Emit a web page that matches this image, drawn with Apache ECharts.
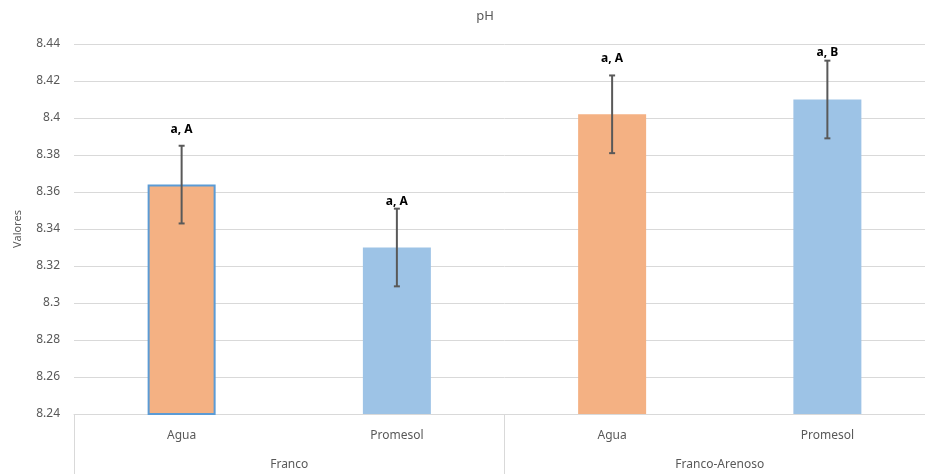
<!DOCTYPE html>
<html>
<head>
<meta charset="utf-8">
<script src="https://cdn.jsdelivr.net/npm/echarts@6/dist/echarts.min.js"></script>
<style>
  html, body { margin: 0; padding: 0; background: #fff; overflow: hidden; }
  #chart { width: 960px; height: 474px; }
</style>
</head>
<body>
<div id="chart"></div>
<script>
// Treatment categories and soil texture groups
const categories = ['Agua', 'Promesol', 'Agua', 'Promesol'];
const groups = ['Franco', 'Franco-Arenoso'];

// Mean pH per treatment and its error (±)
const phValues = [8.364, 8.330, 8.402, 8.410];
const phErrors = [0.021, 0.021, 0.021, 0.021];

// Significance letters shown above each error bar
const letters = ['a, A', 'a, A', 'a, A', 'a, B'];

// Y axis range
const yMin = 8.24;
const yMax = 8.44;
const yStep = 0.02;

// Styling
const barColors = { 'Agua': '#F4B183', 'Promesol': '#9DC3E6' };
const letterGap = [16, 7, 17, 8];
const textGray = '#595959';
const gridGray = '#D9D9D9';
const fontFamily = '"Noto Sans", "Open Sans", sans-serif';

const chart = echarts.init(document.getElementById('chart'), null, { renderer: 'canvas' });

const barData = phValues.map((v, i) => ({
  value: v,
  itemStyle: {
    color: barColors[categories[i]],
    borderColor: i === 0 ? '#5B9BD5' : barColors[categories[i]],
    borderWidth: i === 0 ? 2 : 0
  }
}));

const errData = phValues.map((v, i) => [i, v, phErrors[i]]);

function renderErrorBar(params, api) {
  const i = api.value(0);
  const v = api.value(1);
  const e = api.value(2);
  const top = api.coord([i, v + e]);
  const bot = api.coord([i, v - e]);
  const cap = 3;
  const lineStyle = { stroke: textGray, lineWidth: 2 };
  return {
    type: 'group',
    children: [
      { type: 'line', shape: { x1: top[0], y1: top[1], x2: bot[0], y2: bot[1] }, style: lineStyle },
      { type: 'line', shape: { x1: top[0] - cap, y1: top[1], x2: top[0] + cap, y2: top[1] }, style: lineStyle },
      { type: 'line', shape: { x1: bot[0] - cap, y1: bot[1], x2: bot[0] + cap, y2: bot[1] }, style: lineStyle },
      {
        type: 'text',
        style: {
          text: letters[params.dataIndex],
          x: top[0],
          y: top[1] - letterGap[params.dataIndex],
          align: 'center',
          verticalAlign: 'middle',
          fill: '#000',
          font: 'bold 12px ' + fontFamily
        }
      }
    ]
  };
}

chart.setOption({
  animation: false,
  title: {
    text: 'pH',
    left: 480,
    top: 5,
    textAlign: 'center',
    textStyle: { color: textGray, fontSize: 13, fontWeight: 'normal', fontFamily: fontFamily }
  },
  grid: { left: 74, top: 44, right: 25, bottom: 60, containLabel: false },
  xAxis: [
    {
      type: 'category',
      data: categories,
      position: 'bottom',
      axisLine: { show: true, lineStyle: { color: gridGray, width: 1 } },
      axisTick: { show: false },
      axisLabel: { color: textGray, fontSize: 12, margin: 16, fontFamily: fontFamily, interval: 0 }
    },
    {
      type: 'category',
      data: groups,
      position: 'bottom',
      axisLine: { show: false },
      axisTick: { show: true, length: 62, lineStyle: { color: gridGray, width: 1 } },
      axisLabel: { color: textGray, fontSize: 12, margin: 45, fontFamily: fontFamily, interval: 0 }
    }
  ],
  yAxis: {
    type: 'value',
    min: yMin,
    max: yMax,
    interval: yStep,
    name: 'Valores',
    nameLocation: 'middle',
    nameGap: 51,
    nameTextStyle: { color: textGray, fontSize: 11, fontFamily: fontFamily },
    axisLine: { show: false },
    axisTick: { show: false },
    splitLine: { show: true, lineStyle: { color: gridGray, width: 1 } },
    axisLabel: {
      color: textGray,
      fontSize: 12,
      margin: 14,
      fontFamily: fontFamily,
      formatter: v => String(+v.toFixed(2))
    }
  },
  series: [
    {
      type: 'bar',
      xAxisIndex: 0,
      data: barData,
      barWidth: 68,
      z: 2
    },
    {
      type: 'custom',
      xAxisIndex: 0,
      data: errData,
      renderItem: renderErrorBar,
      clip: false,
      z: 5
    }
  ]
});
</script>
</body>
</html>
